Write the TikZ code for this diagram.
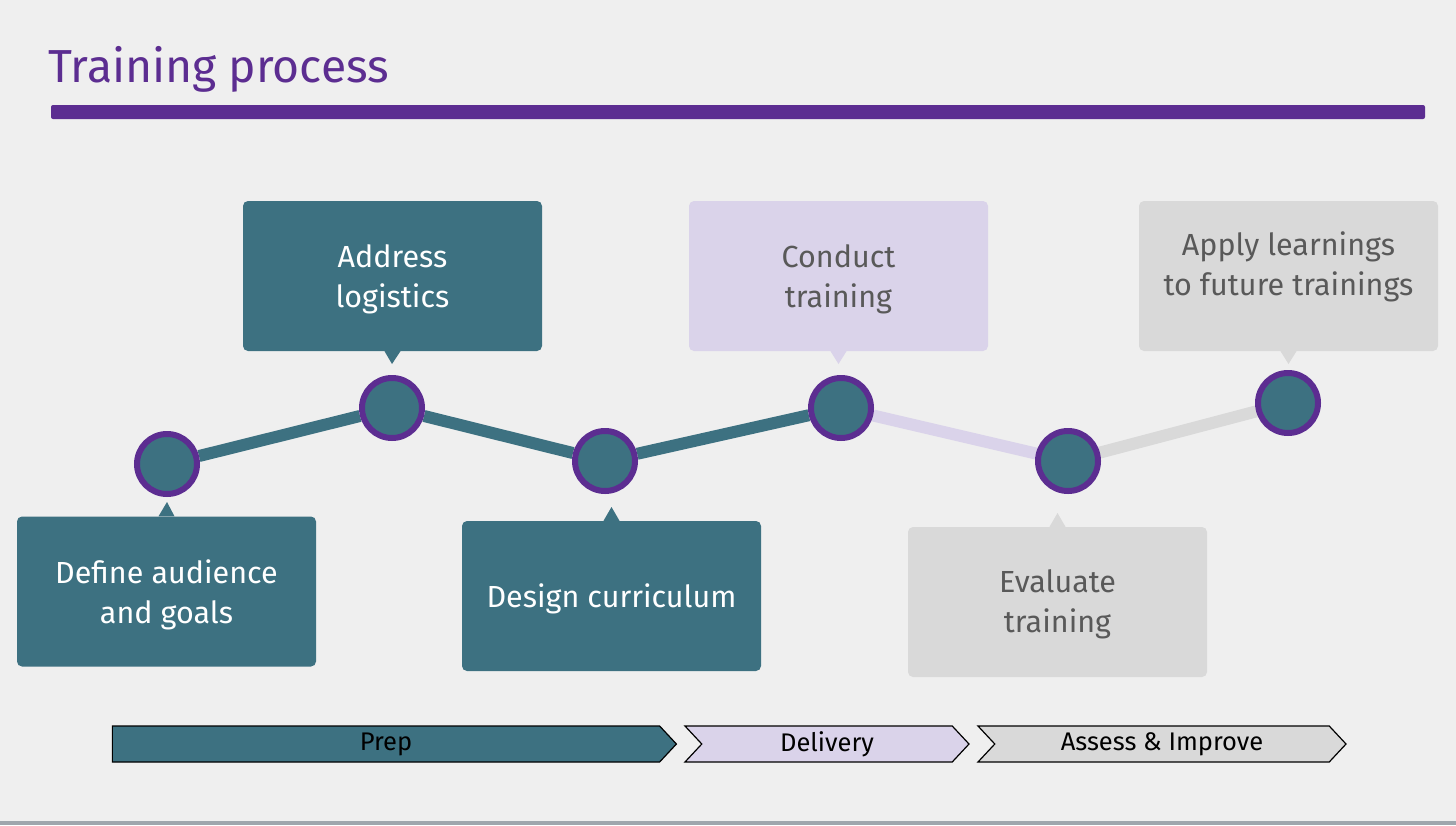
\documentclass[tikz,border=0pt]{standalone}
\usepackage{fontspec}
\setmainfont{Fira Sans}
\usetikzlibrary{shapes.symbols}
\definecolor{bgc}{HTML}{EFEFEF}
\definecolor{tealc}{HTML}{3D7181}
\definecolor{purp}{HTML}{5C2D91}
\definecolor{lav}{HTML}{DAD3EA}
\definecolor{lgray}{HTML}{D9D9D9}
\definecolor{txtgray}{HTML}{595959}
\definecolor{rule}{HTML}{9FA6AD}
\pgfdeclarelayer{bg}
\pgfdeclarelayer{links}
\pgfsetlayers{bg,links,main}
\begin{document}
\begin{tikzpicture}[x=1pt,y=-1pt,
  card/.style={rounded corners=5pt, minimum width=299pt, minimum height=150pt, inner sep=0pt},
  cardtext/.style={align=center, inner sep=0pt, font=\fontsize{30.5}{40}\selectfont},
  tealcard/.style={card, fill=tealc},
  lavcard/.style={card, fill=lav},
  graycard/.style={card, fill=lgray},
  dot/.style={circle, fill=tealc, draw=purp, line width=6pt, minimum size=60pt, inner sep=0pt},
  link/.style={line width=12pt},
  phase/.style={signal, signal to=east, signal pointer angle=94, draw=black, line width=1.2pt, minimum height=36pt, inner sep=0pt, text=black, font=\fontsize{25.5}{28}\selectfont},
]
\useasboundingbox (0,0) rectangle (1456,825);
\begin{pgfonlayer}{bg}
\fill[bgc] (0,0) rectangle (1456,825);
\fill[rule] (0,821) rectangle (1456,825);
\end{pgfonlayer}

% title
\node[anchor=base west, inner sep=0pt, text=purp, font=\fontsize{46.3}{52}\selectfont] (title) at (48,82) {Training process};
\fill[purp, rounded corners=2pt] (51,105) rectangle (1425,119);

% step markers
\node[dot] (d1) at (167,464) {};
\node[dot] (d2) at (392,408) {};
\node[dot] (d3) at (605,461) {};
\node[dot] (d4) at (841,408) {};
\node[dot] (d5) at (1068,461) {};
\node[dot] (d6) at (1288,403) {};

\begin{pgfonlayer}{links}
\draw[link, tealc] (d1) -- (d2);
\draw[link, tealc] (d2) -- (d3);
\draw[link, tealc] (d3) -- (d4);
\draw[link, lav] (d4) -- (d5);
\draw[link, lgray] (d5) -- (d6);
\end{pgfonlayer}

% cards
\node[tealcard] (c1) at (166.5,591.5) {};
\node[cardtext, text=white] (c1t) at (166.5,595) {Define audience\\and goals};
\fill[tealc] ([xshift=-8pt]c1.north) -- (167,502) -- ([xshift=8pt]c1.north) -- cycle;

\node[tealcard] (c2) at (392.5,276) {};
\node[cardtext, text=white] (c2t) at (392.5,279) {Address\\logistics};
\fill[tealc] ([xshift=-8pt]c2.south) -- (392,364) -- ([xshift=8pt]c2.south) -- cycle;

\node[tealcard] (c3) at (611.5,596) {};
\node[cardtext, text=white] (c3t) at (611.5,599) {Design curriculum};
\fill[tealc] ([xshift=-8pt]c3.north) -- (611.5,507) -- ([xshift=8pt]c3.north) -- cycle;

\node[lavcard] (c4) at (838.5,276) {};
\node[cardtext, text=txtgray] (c4t) at (838.5,279) {Conduct\\training};
\fill[lav] ([xshift=-8pt]c4.south) -- (838.5,364) -- ([xshift=8pt]c4.south) -- cycle;

\node[graycard] (c5) at (1057.5,602) {};
\node[cardtext, text=txtgray] (c5t) at (1057.5,604) {Evaluate\\training};
\fill[lgray] ([xshift=-8pt]c5.north) -- (1057.5,513) -- ([xshift=8pt]c5.north) -- cycle;

\node[graycard] (c6) at (1288.5,276) {};
\node[cardtext, text=txtgray] (c6t) at (1288.5,267) {Apply learnings\\to future trainings};
\fill[lgray] ([xshift=-8pt]c6.south) -- (1288.5,364) -- ([xshift=8pt]c6.south) -- cycle;

% phases
\node[phase, fill=tealc, minimum width=564pt] (p1) at (386,744) {Prep};
\node[phase, signal from=west, fill=lav, minimum width=284pt] (p2) at (827,744) {Delivery};
\node[phase, signal from=west, fill=lgray, minimum width=368pt] (p3) at (1162,744) {Assess \& Improve};
\end{tikzpicture}
\end{document}
